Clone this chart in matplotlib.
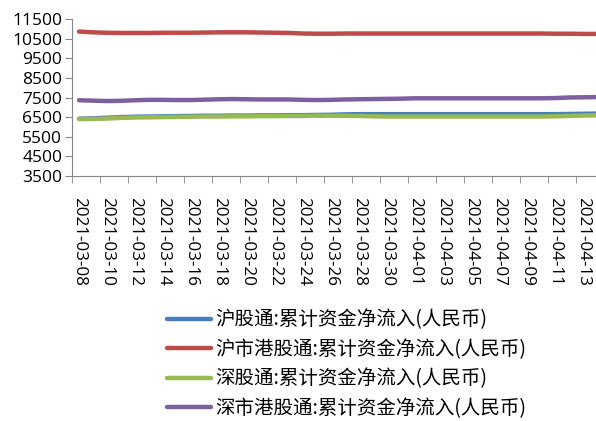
import numpy as np
import pandas as pd
import matplotlib
matplotlib.use("Agg")
import matplotlib.pyplot as plt
from matplotlib.ticker import FixedLocator

dates = pd.date_range("2021-03-08", "2021-04-14").strftime("%Y-%m-%d").tolist()

# cumulative net inflow
hu_gu = [6420, 6440, 6470, 6500, 6520, 6530, 6540, 6550, 6560, 6570, 6570, 6580, 6580, 6590, 6590,
         6600, 6600, 6610, 6620, 6640, 6650, 6650, 6650, 6650, 6650, 6650, 6650, 6650, 6650, 6650,
         6650, 6650, 6650, 6650, 6650, 6660, 6670, 6680]
hu_gang = [10860, 10820, 10800, 10790, 10790, 10790, 10800, 10800, 10800, 10810, 10820, 10820, 10820,
           10810, 10800, 10790, 10760, 10750, 10750, 10760, 10760, 10760, 10760, 10760, 10760, 10760,
           10760, 10760, 10760, 10760, 10760, 10760, 10760, 10760, 10750, 10750, 10740, 10740]
shen_gu = [6400, 6410, 6430, 6460, 6480, 6490, 6500, 6510, 6520, 6530, 6530, 6540, 6540, 6550, 6550,
           6560, 6560, 6570, 6570, 6570, 6560, 6540, 6530, 6530, 6530, 6530, 6530, 6530, 6530, 6530,
           6530, 6530, 6530, 6530, 6540, 6560, 6580, 6590]
shen_gang = [7360, 7340, 7320, 7330, 7360, 7380, 7380, 7370, 7370, 7390, 7410, 7420, 7410, 7400, 7400,
             7400, 7380, 7370, 7380, 7400, 7410, 7420, 7430, 7440, 7460, 7460, 7460, 7460, 7460, 7460,
             7460, 7460, 7460, 7460, 7470, 7500, 7510, 7520]

labels = ["沪股通:累计资金净流入(人民币)", "沪市港股通:累计资金净流入(人民币)",
          "深股通:累计资金净流入(人民币)", "深市港股通:累计资金净流入(人民币)"]
colors = ["#4A7EBB", "#BE4B48", "#98B954", "#7D60A0"]

plt.rcParams['font.family'] = ['Noto Sans CJK SC', 'DejaVu Sans']

fig = plt.figure(figsize=(5.96, 4.21), dpi=100)
ax = fig.add_axes([72 / 596, 1 - 176 / 421, 532 / 596, 157 / 421])

x = np.arange(len(dates))
for vals, lab, col in zip([hu_gu, hu_gang, shen_gu, shen_gang], labels, colors):
    ax.plot(x, vals, color=col, linewidth=3.2, label=lab, solid_capstyle='round')

ax.set_ylim(3500, 11500)
ax.set_yticks(np.arange(3500, 11501, 1000))
ax.set_xlim(-0.5, len(dates) - 0.5)
ax.set_xticks(x[::2])
ax.set_xticklabels(dates[::2], rotation=-90, fontsize=12.3, family='Open Sans')
ax.xaxis.set_minor_locator(FixedLocator(np.arange(-0.5, len(dates), 2)))
ax.tick_params(axis='x', which='major', length=0, pad=15)
ax.tick_params(axis='x', which='minor', length=5, color='#868686')
ax.tick_params(axis='y', length=5, color='#868686', labelsize=12.5, pad=2)
for t in ax.get_yticklabels():
    t.set_family('Open Sans')

for s in ['top', 'right']:
    ax.spines[s].set_visible(False)
for s in ['left', 'bottom']:
    ax.spines[s].set_color('#868686')

fig.legend(loc='upper left', bbox_to_anchor=(149 / 596, 1 - 292 / 421), frameon=False,
           fontsize=14, handlelength=2.3, labelspacing=0.44, handletextpad=0.2)

fig.savefig("out.png", dpi=100)
